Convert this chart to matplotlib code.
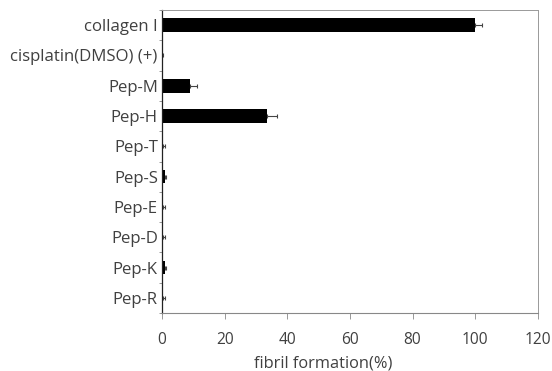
import matplotlib
matplotlib.use("Agg")
import matplotlib.pyplot as plt
import numpy as np

plt.rcParams['font.family'] = ['Open Sans', 'DejaVu Sans']

labels = ['collagen I', 'cisplatin(DMSO) (+)', 'Pep-M', 'Pep-H', 'Pep-T',
          'Pep-S', 'Pep-E', 'Pep-D', 'Pep-K', 'Pep-R']
values = [100, 0.1, 9, 33.5, 0.2, 0.8, 0.3, 0.2, 0.8, 0.2]
errors = [2, 0.2, 2.2, 3.2, 0.6, 0.5, 0.6, 0.6, 0.6, 0.6]
xticks = [0, 20, 40, 60, 80, 100, 120]

fig = plt.figure(figsize=(5.52, 3.71), dpi=100)
ax = fig.add_axes([0.2935, 0.1563, 0.681, 0.8167])

y = np.arange(len(labels))
ax.barh(y, values, height=0.45, color='black',
        xerr=[np.zeros(len(errors)), errors],
        error_kw=dict(ecolor='#444444', elinewidth=0.8, capsize=1.5, capthick=0.8))

ax.set_ylim(len(labels) - 0.5, -0.5)
ax.set_xlim(0, 120)
ax.set_xticks(xticks)
ax.set_yticks(y)
ax.set_yticklabels(labels, fontsize=12.1, color='#404040')
ax.set_yticks(np.arange(-0.5, len(labels)), minor=True)
ax.tick_params(axis='y', which='major', length=0, pad=3)
ax.tick_params(axis='y', which='minor', length=2, width=0.6, color='#888888')
ax.tick_params(axis='x', length=4, width=0.6, color='#888888', labelsize=11.2,
               labelcolor='#404040', pad=10)
ax.set_xlabel('fibril formation(%)', fontsize=11.8, color='#404040', va='center')
ax.xaxis.set_label_coords(0.43, -0.165)

ax.spines['left'].set_color('#222222')
ax.spines['left'].set_linewidth(0.9)
ax.spines['bottom'].set_color('#888888')
ax.spines['bottom'].set_linewidth(0.8)
for s in ['top', 'right']:
    ax.spines[s].set_color('#999999')
    ax.spines[s].set_linewidth(0.7)
    ax.spines[s].set_linestyle((0, (1, 1)))

fig.savefig('out.png', dpi=100)
